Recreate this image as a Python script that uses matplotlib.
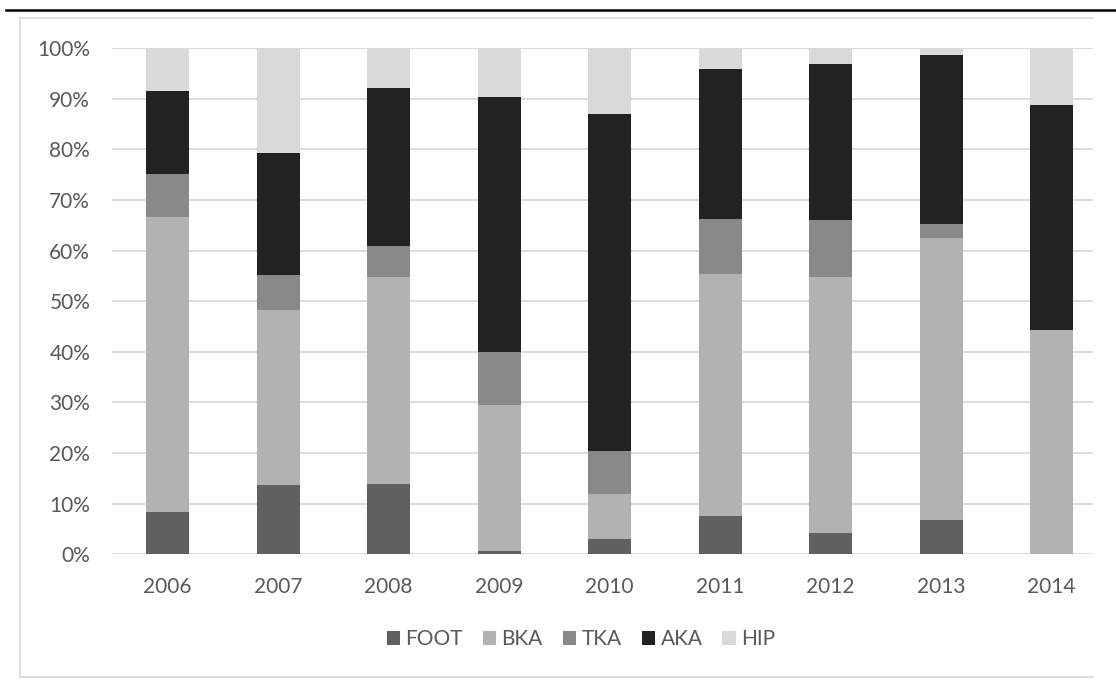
import numpy as np
import matplotlib
matplotlib.use('Agg')
import matplotlib.pyplot as plt
from matplotlib.lines import Line2D

# share of each amputation level per year (%)
years = ['2006', '2007', '2008', '2009', '2010', '2011', '2012', '2013', '2014']
foot = [8.3, 13.7, 13.9, 0.7, 3.0, 7.6, 4.3, 6.8, 0.0]
bka = [58.4, 34.6, 40.9, 28.9, 8.9, 47.8, 50.5, 55.7, 44.4]
tka = [8.4, 6.9, 6.1, 10.4, 8.5, 10.8, 11.2, 2.8, 0.0]
aka = [16.5, 24.1, 31.3, 50.4, 66.6, 29.7, 30.8, 33.3, 44.4]
hip = [8.4, 20.7, 7.8, 9.6, 13.0, 4.1, 3.2, 1.4, 11.2]

series = [('FOOT', foot, '#606060'),
          ('BKA', bka, '#b2b2b2'),
          ('TKA', tka, '#898989'),
          ('AKA', aka, '#222222'),
          ('HIP', hip, '#d9d9d9')]

plt.rcParams['font.family'] = ['Lato', 'DejaVu Sans']
W, H = 1116, 680
fig = plt.figure(figsize=(W / 100, H / 100), dpi=100)

left, right = 112.4, 1093
bottom, top = 554.3, 48.3
ax = fig.add_axes([left / W, 1 - bottom / H, (right - left) / W, (bottom - top) / H])

x = np.arange(len(years))
base = np.zeros(len(years))
for name, vals, col in series:
    vals = np.array(vals)
    ax.bar(x, vals, 0.39, bottom=base, color=col, label=name, zorder=2)
    base += vals

ax.set_ylim(0, 100)
ax.set_xlim(-0.5, -0.5 + (right - left) / 110.5)
ax.set_yticks(np.arange(0, 101, 10))
ax.set_yticklabels(['%d%%' % v for v in range(0, 101, 10)])
ax.set_xticks(x)
ax.set_xticklabels(years)
ax.yaxis.grid(True, color='#d9d9d9', lw=1.3)
ax.set_axisbelow(True)
for s in ax.spines.values():
    s.set_visible(False)
ax.tick_params(length=0, labelsize=15, labelcolor='#595959')
ax.tick_params(axis='y', pad=16)
ax.tick_params(axis='x', pad=16)

leg = fig.legend(loc='center', bbox_to_anchor=(581 / W, 1 - 639 / H), ncol=5,
                 frameon=False, fontsize=15, handlelength=0.65, handleheight=0.65,
                 handletextpad=0.25, columnspacing=0.96, labelcolor='#595959')

# chart frame and the heavy rule above it
def fx(px):
    return px / W

def fy(py):
    return 1 - py / H

fc = '#d9d9d9'
fig.add_artist(Line2D([fx(20), fx(20)], [fy(18.3), fy(677.3)], color=fc, lw=1.2))
fig.add_artist(Line2D([fx(20), fx(1093)], [fy(18.3), fy(18.3)], color=fc, lw=1.2))
fig.add_artist(Line2D([fx(20), fx(1093)], [fy(677.3), fy(677.3)], color=fc, lw=1.2))
fig.add_artist(Line2D([fx(6), fx(1116)], [fy(10), fy(10)], color='black', lw=1.8))

fig.savefig('out.png', dpi=100)
